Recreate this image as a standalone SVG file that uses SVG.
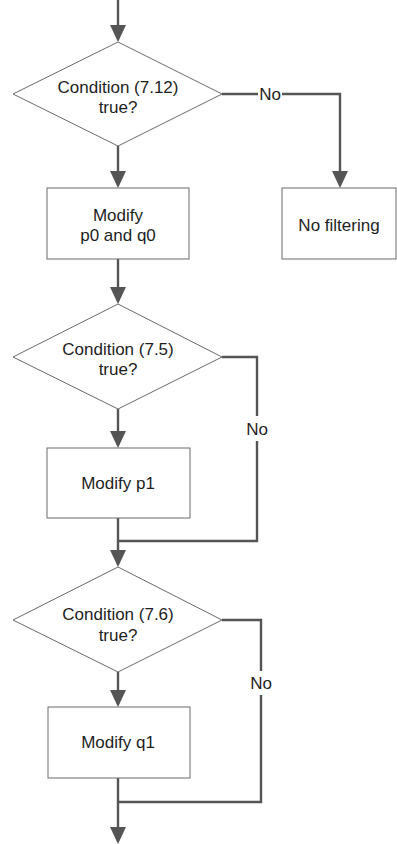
<svg xmlns="http://www.w3.org/2000/svg" width="397" height="844" viewBox="0 0 397 844">
  <style>
    .shape { fill: #ffffff; stroke: #6a6a6a; stroke-width: 1; }
    .conn { fill: none; stroke: #555555; stroke-width: 2.4; stroke-linecap: butt; stroke-linejoin: miter; }
    .label { font-family: "Liberation Sans", Arial, Helvetica, sans-serif; font-size: 17px; fill: #1e1e1e; text-anchor: middle; }
  </style>
  <defs>
    <marker id="arrow" viewBox="0 0 17 16" refX="14" refY="8" markerWidth="17" markerHeight="16" markerUnits="userSpaceOnUse" orient="auto">
      <path d="M0,0 L17,8 L0,16 z" fill="#555555"/>
    </marker>
  </defs>

  <rect width="397" height="844" fill="#ffffff"/>

  <!-- connectors -->
  <g id="connectors">
    <path class="conn" d="M118,0 V39" marker-end="url(#arrow)"/>
    <path class="conn" d="M118,146 V185" marker-end="url(#arrow)"/>
    <path class="conn" d="M222,94 H258"/>
    <path class="conn" d="M282,94 H340 V185" marker-end="url(#arrow)"/>
    <path class="conn" d="M118,259 V301" marker-end="url(#arrow)"/>
    <path class="conn" d="M118,409 V445" marker-end="url(#arrow)"/>
    <path class="conn" d="M222,357 H257 V416"/>
    <path class="conn" d="M257,441 V541 H118"/>
    <path class="conn" d="M118,518 V564" marker-end="url(#arrow)"/>
    <path class="conn" d="M118,672 V704" marker-end="url(#arrow)"/>
    <path class="conn" d="M222,620 H261 V671"/>
    <path class="conn" d="M261,695 V802 H118"/>
    <path class="conn" d="M118,778 V841" marker-end="url(#arrow)"/>
    <text class="label" x="270" y="100">No</text>
    <text class="label" x="257" y="435">No</text>
    <text class="label" x="261" y="689">No</text>
  </g>

  <!-- decision: condition 7.12 -->
  <g id="cond712">
    <polygon class="shape" points="118,42 222,94 118,146 13,94"/>
    <text class="label" x="118" y="93">Condition (7.12)</text>
    <text class="label" x="118" y="113">true?</text>
  </g>

  <!-- process: modify p0 and q0 -->
  <g id="modifyP0Q0">
    <rect class="shape" x="47" y="188" width="142" height="71"/>
    <text class="label" x="118" y="221">Modify</text>
    <text class="label" x="118" y="241">p0 and q0</text>
  </g>

  <!-- terminal branch: no filtering -->
  <g id="noFiltering">
    <rect class="shape" x="282" y="188" width="114" height="71"/>
    <text class="label" x="339" y="231">No filtering</text>
  </g>

  <!-- decision: condition 7.5 -->
  <g id="cond75">
    <polygon class="shape" points="118,304 222,357 118,409 13,357"/>
    <text class="label" x="118" y="355">Condition (7.5)</text>
    <text class="label" x="118" y="375">true?</text>
  </g>

  <!-- process: modify p1 -->
  <g id="modifyP1">
    <rect class="shape" x="47" y="448" width="143" height="70"/>
    <text class="label" x="118" y="489">Modify p1</text>
  </g>

  <!-- decision: condition 7.6 -->
  <g id="cond76">
    <polygon class="shape" points="118,567 222,620 118,672 13,620"/>
    <text class="label" x="118" y="620">Condition (7.6)</text>
    <text class="label" x="118" y="641">true?</text>
  </g>

  <!-- process: modify q1 -->
  <g id="modifyQ1">
    <rect class="shape" x="48" y="707" width="142" height="71"/>
    <text class="label" x="118" y="748">Modify q1</text>
  </g>
</svg>
